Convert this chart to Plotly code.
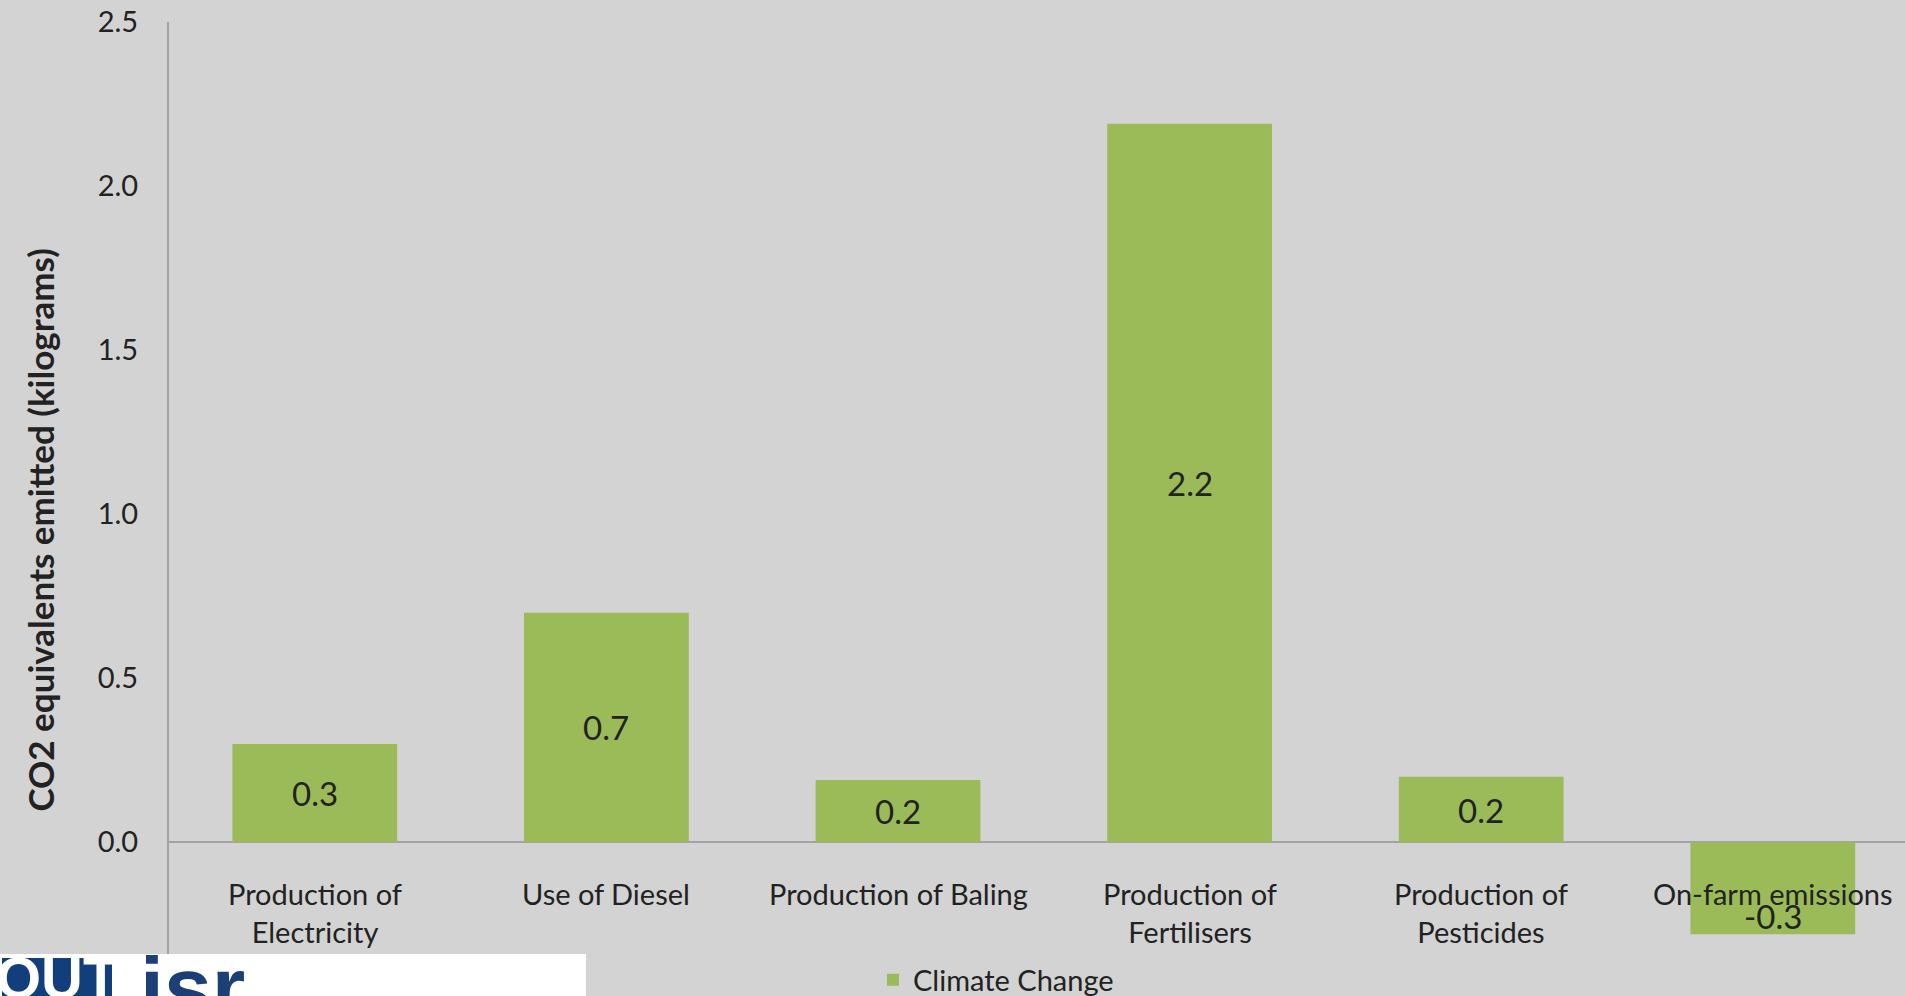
import plotly.graph_objects as go

# Carbon footprint by source (kg CO2-equivalents)
categories = [
    "Production of<br>Electricity",
    "Use of Diesel",
    "Production of Baling",
    "Production of<br>Fertilisers",
    "Production of<br>Pesticides",
    "On-farm emissions",
]
co2_kg = [0.30, 0.70, 0.19, 2.19, 0.20, -0.28]
series_name = "Climate Change"
y_ticks = [0.0, 0.5, 1.0, 1.5, 2.0, 2.5]

W, H = 1905, 996
ML, MR, MT, MB = 169, 0, 22, 6
PW, PH = W - ML - MR, H - MT - MB

BG = "#d3d3d3"
BAR = "#9bbb59"
TXT = "#222222"
AXIS = "#a3a3a3"
FONT = "Lato, 'Open Sans', sans-serif"


def px_x(px):
    return (px - ML) / PW


def px_y(py):
    return (H - MB - py) / PH


fig = go.Figure()
fig.add_trace(go.Bar(
    x=categories,
    y=co2_kg,
    name=series_name,
    marker=dict(color=BAR, line=dict(width=0)),
    width=0.565,
    showlegend=True,
))

annotations = []
# value labels inside each bar
for cat, v in zip(categories, co2_kg):
    if v >= 0:
        annotations.append(dict(x=cat, y=v / 2, xref="x", yref="y",
                                text=f"{v:.1f}", showarrow=False,
                                font=dict(size=33, color=TXT, family=FONT),
                                yanchor="middle"))
    else:
        annotations.append(dict(x=cat, y=v, xref="x", yref="y",
                                text=f"{v:.1f}", showarrow=False,
                                font=dict(size=33, color=TXT, family=FONT),
                                yanchor="bottom", yshift=-4))

# category labels hang from the zero line
for cat in categories:
    annotations.append(dict(x=cat, y=0, xref="x", yref="y",
                            text=cat, showarrow=False, align="center",
                            font=dict(size=29, color=TXT, family=FONT),
                            yanchor="top", yshift=-32))

# vertical axis title
annotations.append(dict(x=px_x(40), y=0.95, xref="paper", yref="y",
                        text="<b>CO2 equivalents emitted (kilograms)</b>",
                        textangle=-90, showarrow=False,
                        font=dict(size=35, color=TXT, family=FONT),
                        xanchor="center", yanchor="middle"))

# footer logo block
annotations.append(dict(x=px_x(57), y=px_y(957), xref="paper", yref="paper",
                        text="<b>QUT</b>", showarrow=False,
                        font=dict(size=58, color="white", family="Liberation Sans"),
                        xanchor="center", yanchor="top", yshift=14))
annotations.append(dict(x=px_x(138), y=px_y(955), xref="paper", yref="paper",
                        text="<b>isr</b>", showarrow=False,
                        font=dict(size=86, color="#1c3f77", family="Liberation Sans"),
                        xanchor="left", yanchor="top", yshift=18))

shapes = [
    dict(type="rect", xref="paper", yref="paper",
         x0=px_x(0), x1=px_x(586), y0=px_y(996), y1=px_y(954),
         fillcolor="white", line=dict(width=0), layer="above"),
    dict(type="rect", xref="paper", yref="paper",
         x0=px_x(2), x1=px_x(112), y0=px_y(996), y1=px_y(958),
         fillcolor="#123f7c", line=dict(width=0), layer="above"),
]

fig.update_layout(
    width=W, height=H, autosize=False,
    margin=dict(l=ML, r=MR, t=MT, b=MB, pad=0, autoexpand=False),
    paper_bgcolor=BG, plot_bgcolor=BG,
    font=dict(family=FONT, color=TXT),
    bargap=0.435,
    xaxis=dict(range=[-0.5, -0.5 + PW / 291.6], showticklabels=False,
               showgrid=False, zeroline=False, showline=False, ticks=""),
    yaxis=dict(range=[-0.45, 2.5], tickvals=y_ticks, tickformat=".1f",
               showgrid=False, zeroline=True, zerolinecolor=AXIS,
               zerolinewidth=2, showline=True, linecolor=AXIS, linewidth=2,
               ticks="", ticklabelstandoff=23,
               tickfont=dict(size=29, color=TXT, family=FONT)),
    legend=dict(x=px_x(873), y=px_y(980), xanchor="left", yanchor="middle",
                bgcolor="rgba(0,0,0,0)", font=dict(size=29, color=TXT, family=FONT),
                itemwidth=30),
    annotations=annotations,
    shapes=shapes,
)

fig.write_html("out.html")
